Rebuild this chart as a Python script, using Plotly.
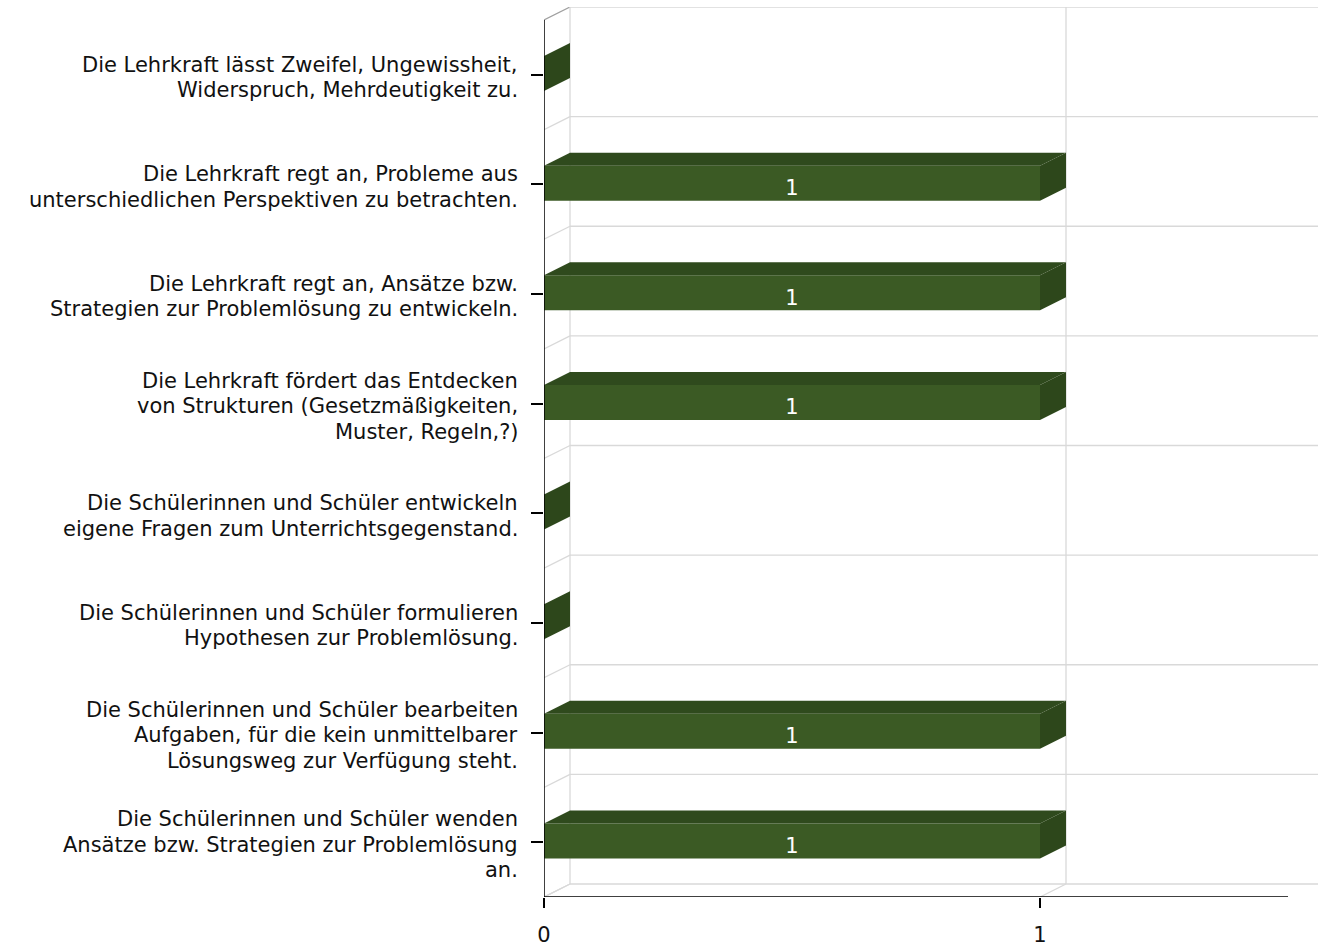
import plotly.graph_objects as go

# ---------------- data ----------------
categories = [
    "Die Lehrkraft lässt Zweifel, Ungewissheit,<br>Widerspruch, Mehrdeutigkeit zu.",
    "Die Lehrkraft regt an, Probleme aus<br>unterschiedlichen Perspektiven zu betrachten.",
    "Die Lehrkraft regt an, Ansätze bzw.<br>Strategien zur Problemlösung zu entwickeln.",
    "Die Lehrkraft fördert das Entdecken<br>von Strukturen (Gesetzmäßigkeiten,<br>Muster, Regeln,?)",
    "Die Schülerinnen und Schüler entwickeln<br>eigene Fragen zum Unterrichtsgegenstand.",
    "Die Schülerinnen und Schüler formulieren<br>Hypothesen zur Problemlösung.",
    "Die Schülerinnen und Schüler bearbeiten<br>Aufgaben, für die kein unmittelbarer<br>Lösungsweg zur Verfügung steht.",
    "Die Schülerinnen und Schüler wenden<br>Ansätze bzw. Strategien zur Problemlösung<br>an.",
]
values = [0, 1, 1, 1, 0, 0, 1, 1]
x_tick_values = [0, 1]
x_tick_labels = ["0", "1"]
x_max = 1.5

# ---------------- style / geometry ----------------
W, H = 1318, 949
L_M, R_M, T_M, B_M = 544, 0, 7, 52
PX_PER_X = 496.0
DEPTH_X_PX, DEPTH_Y_PX = 26.0, 13.0
n = len(categories)
plot_h = H - T_M - B_M
PX_PER_Y = (plot_h - DEPTH_Y_PX) / n
DX = DEPTH_X_PX / PX_PER_X
DY = DEPTH_Y_PX / PX_PER_Y
x_range = [0, (W - L_M - R_M) / PX_PER_X]
y_range = [n - 0.5, -0.5 - DY]
HALF = 17.5 / PX_PER_Y
CSHIFT = -1.2 / PX_PER_Y
LABEL_SHIFT = 6.5 / PX_PER_Y
LINE_H = 25.5
CAT_SHIFT = 2.5

FRONT = "#3b5a24"
TOP = "#2f4a1d"
SIDE = "#2d471b"
GRID = "#d9d9d9"
FONT = "DejaVu Sans, Verdana, sans-serif"
FS = 21

fig = go.Figure()

def line(xs, ys, color, width=1.3):
    fig.add_trace(go.Scatter(x=xs, y=ys, mode="lines", line=dict(color=color, width=width),
                             hoverinfo="skip", showlegend=False))

# grid: left wall diagonals, back wall horizontals
bounds = [i - 0.5 for i in range(n + 1)]
for b in bounds:
    line([0, DX], [b, b - DY], GRID if b != bounds[0] else "#a0a0a0")
    line([DX, x_range[1]], [b - DY, b - DY], GRID)
# back wall verticals and floor diagonals at value ticks
for tv in x_tick_values:
    line([tv + DX, tv + DX], [bounds[0] - DY, bounds[-1] - DY], GRID)
    line([tv, tv + DX], [bounds[-1], bounds[-1] - DY], GRID)

# bars (3D)
for i, v in enumerate(values):
    yc = i + CSHIFT
    top, bot = yc - HALF, yc + HALF
    if v > 0:
        fig.add_trace(go.Scatter(x=[0, v, v, 0, 0], y=[top, top, bot, bot, top], mode="lines",
                                 fill="toself", fillcolor=FRONT, line=dict(width=0),
                                 hoverinfo="skip", showlegend=False))
        fig.add_trace(go.Scatter(x=[0, v, v + DX, DX, 0], y=[top, top, top - DY, top - DY, top],
                                 mode="lines", fill="toself", fillcolor=TOP, line=dict(width=0),
                                 hoverinfo="skip", showlegend=False))
    fig.add_trace(go.Scatter(x=[v, v, v + DX, v + DX, v], y=[top, bot, bot - DY, top - DY, top],
                             mode="lines", fill="toself", fillcolor=SIDE, line=dict(width=0),
                             hoverinfo="skip", showlegend=False))

# value labels
lab_x = [v / 2 for v in values if v > 0]
lab_y = [i + CSHIFT + LABEL_SHIFT for i, v in enumerate(values) if v > 0]
lab_t = [str(v) for v in values if v > 0]
fig.add_trace(go.Scatter(x=lab_x, y=lab_y, text=lab_t, mode="text",
                         textfont=dict(color="white", size=FS, family=FONT),
                         hoverinfo="skip", showlegend=False))

# axis lines
line([0, 0], [bounds[0], bounds[-1]], "black", 1.5)
line([0, x_max], [bounds[-1], bounds[-1]], "black", 1.5)

# category labels (one annotation per line for tight line spacing)
annotations = []
for i, cat in enumerate(categories):
    parts = cat.split("<br>")
    m = len(parts)
    for k, p in enumerate(parts):
        off = (k - (m - 1) / 2) * LINE_H + CAT_SHIFT
        annotations.append(dict(x=0, y=i, xref="x", yref="y", text=p, showarrow=False,
                                xanchor="right", yanchor="middle", xshift=-24, yshift=-off,
                                font=dict(family=FONT, size=FS, color="#111111")))

fig.update_layout(
    width=W, height=H,
    margin=dict(l=L_M, r=R_M, t=T_M, b=B_M, pad=0),
    paper_bgcolor="white", plot_bgcolor="white",
    font=dict(family=FONT, size=FS, color="#111111"),
    showlegend=False,
    annotations=annotations,
    xaxis=dict(range=x_range, showgrid=False, zeroline=False, showline=False,
               tickmode="array", tickvals=x_tick_values, ticktext=x_tick_labels,
               ticks="outside", ticklen=10, tickwidth=1.5, tickcolor="black",
               ticklabelstandoff=9, fixedrange=True),
    yaxis=dict(range=y_range, showgrid=False, zeroline=False, showline=False,
               tickmode="array", tickvals=list(range(n)), showticklabels=False,
               ticks="outside", ticklen=12, tickwidth=1.5, tickcolor="black",
               fixedrange=True),
)

fig.write_html("out.html", config={"displayModeBar": False},
               post_script="document.body.style.margin='0';document.body.style.overflow='hidden';")
